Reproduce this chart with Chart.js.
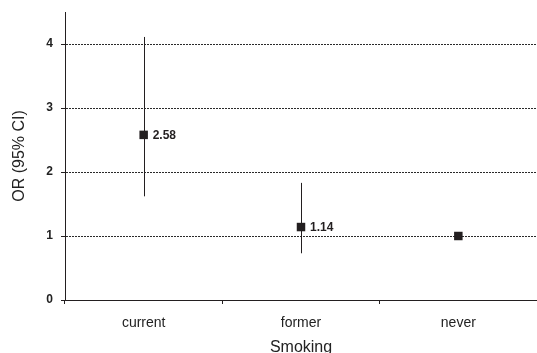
<!DOCTYPE html>
<html>
<head>
<meta charset="utf-8">
<script src="https://cdn.jsdelivr.net/npm/chart.js@4/dist/chart.umd.min.js"></script>
<style>
  html, body { margin: 0; padding: 0; background: #fff; }
  #wrap { width: 537px; height: 353px; }
</style>
</head>
<body>
<div id="wrap"><canvas id="visu" width="537" height="353"></canvas></div>
<script>
// Odds ratios by smoking status, with 95% confidence intervals
const categories = ['current', 'former', 'never'];
const orValues = [2.58, 1.14, 1.0];
const ciLow = [1.62, 0.73, null];
const ciHigh = [4.11, 1.83, null];
const pointLabels = ['2.58', '1.14', null];
const yTicks = [0, 1, 2, 3, 4];

const ink = '#231f20';

// Vertical CI lines plus the value printed next to each marker
const ciPlugin = {
    id: 'ciLines',
    beforeDatasetsDraw(chart) {
        const ctx = chart.ctx;
        const x = chart.scales.x;
        const y = chart.scales.y;
        ctx.save();
        ctx.strokeStyle = ink;
        ctx.lineWidth = 1;
        categories.forEach((c, i) => {
            if (ciLow[i] == null) return;
            const px = Math.round(x.getPixelForValue(i)) + 0.5;
            ctx.beginPath();
            ctx.moveTo(px, y.getPixelForValue(ciLow[i]));
            ctx.lineTo(px, y.getPixelForValue(ciHigh[i]));
            ctx.stroke();
        });
        ctx.restore();
    },
    afterDatasetsDraw(chart) {
        const ctx = chart.ctx;
        const x = chart.scales.x;
        const y = chart.scales.y;
        ctx.save();
        ctx.fillStyle = ink;
        ctx.font = 'bold 12px "Liberation Sans", Arial, sans-serif';
        ctx.textBaseline = 'middle';
        ctx.textAlign = 'left';
        categories.forEach((c, i) => {
            if (!pointLabels[i]) return;
            ctx.fillText(pointLabels[i], x.getPixelForValue(i) + 9, y.getPixelForValue(orValues[i]) + 0.5);
        });
        ctx.restore();
    }
};

const config = {
    type: 'line',
    data: {
        labels: categories,
        datasets: [{
            data: orValues,
            showLine: false,
            pointStyle: 'rect',
            pointRadius: 6,
            pointHoverRadius: 6,
            pointBorderWidth: 0,
            pointBackgroundColor: ink,
            borderColor: ink
        }]
    },
    options: {
        responsive: false,
        animation: false,
        events: [],
        layout: { autoPadding: false, padding: { top: 12, right: 0, left: 0, bottom: 0 } },
        plugins: {
            legend: { display: false },
            tooltip: { enabled: false }
        },
        scales: {
            x: {
                type: 'category',
                offset: true,
                grid: {
                    offset: true,
                    drawOnChartArea: false,
                    drawTicks: true,
                    tickLength: 4,
                    tickColor: ink
                },
                border: { color: ink, width: 1 },
                ticks: {
                    color: '#222',
                    padding: 11,
                    font: { family: '"Liberation Sans", Arial, sans-serif', size: 14 }
                },
                title: {
                    display: true,
                    text: 'Smoking',
                    color: '#222',
                    padding: { top: 3, bottom: -4 },
                    font: { family: '"Liberation Sans", Arial, sans-serif', size: 16 }
                },
                afterFit(scale) {
                    scale.height = 53;
                    scale.paddingLeft = 0;
                    scale.paddingRight = 0;
                }
            },
            y: {
                min: 0,
                max: 4.5,
                afterBuildTicks(scale) {
                    scale.ticks = yTicks.map(v => ({ value: v }));
                },
                grid: {
                    color: ctx => ctx.tick && ctx.tick.value === 0 ? 'rgba(0,0,0,0)' : '#2a2a2a',
                    lineWidth: 1,
                    drawTicks: true,
                    tickLength: 4,
                    tickColor: ink
                },
                border: { color: ink, width: 1, dash: [2, 1] },
                ticks: {
                    color: '#222',
                    padding: 8,
                    font: { family: '"Liberation Sans", Arial, sans-serif', size: 12, weight: 'bold' }
                },
                title: {
                    display: true,
                    text: 'OR (95% CI)',
                    color: '#222',
                    padding: { top: 10, bottom: 0 },
                    font: { family: '"Liberation Sans", Arial, sans-serif', size: 16 }
                },
                afterFit(scale) {
                    scale.width = 65;
                    scale.paddingTop = 0;
                    scale.paddingBottom = 0;
                }
            }
        }
    },
    plugins: [ciPlugin]
};

const ctx = document.getElementById('visu').getContext('2d');
new Chart(ctx, config);
</script>
</body>
</html>
